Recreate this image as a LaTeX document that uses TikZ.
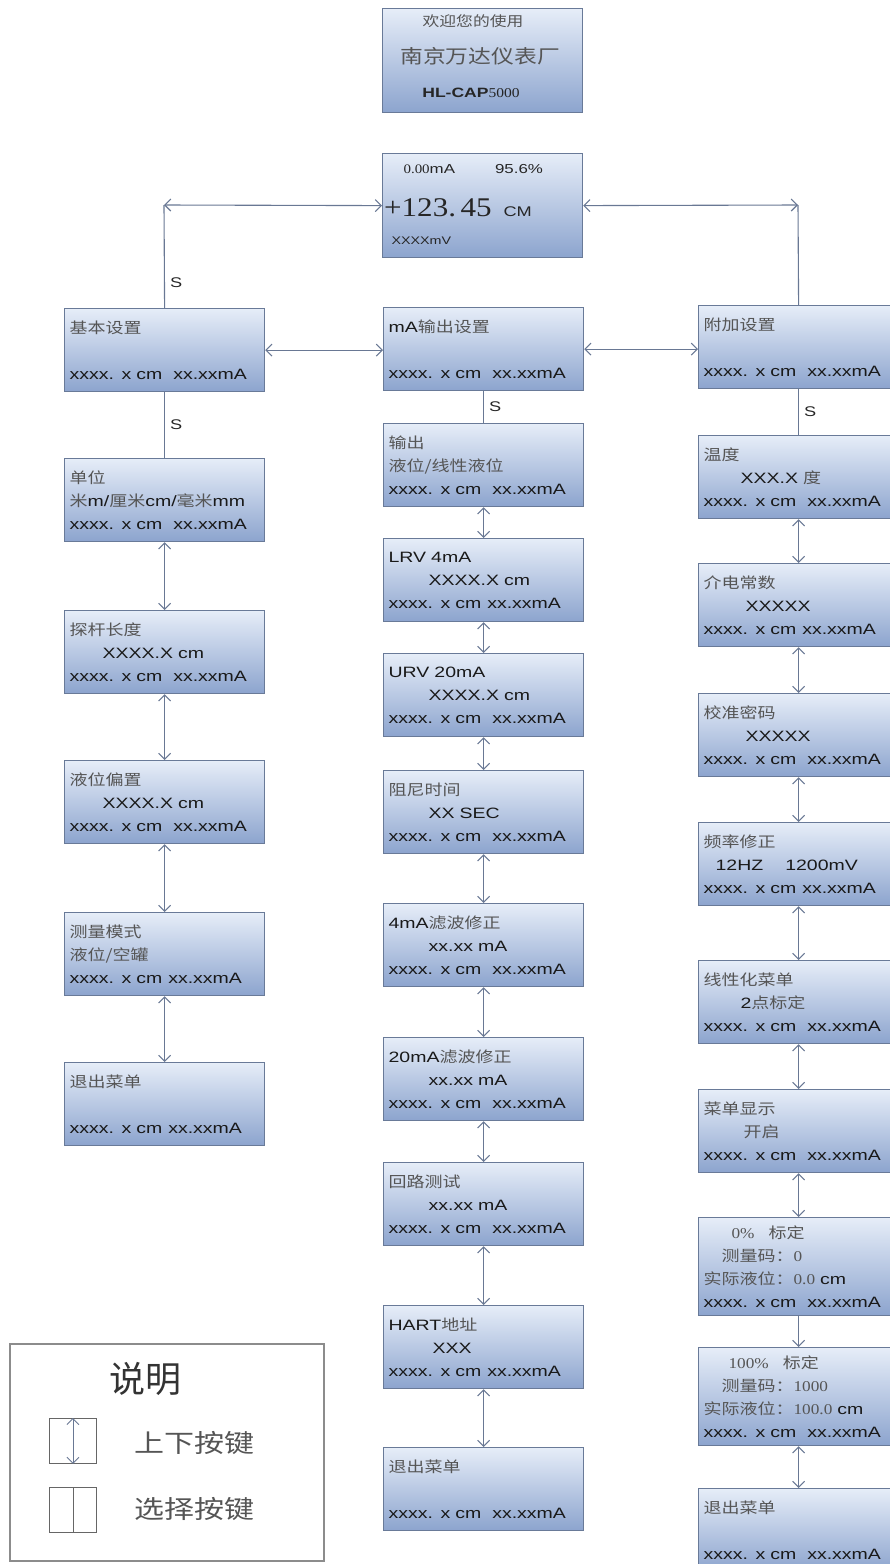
\documentclass[tikz,border=0pt]{standalone}
\usepackage{fontspec}
\setmainfont[FakeStretch=1.3]{Liberation Sans}
\newfontfamily\zhfont[FakeStretch=1.2]{Noto Sans CJK SC}
\newfontfamily\zhbig{Noto Sans CJK SC}
\newfontfamily\digitfont[FakeStretch=1.15]{Liberation Serif}
\usetikzlibrary{arrows.meta}
\definecolor{boxtop}{RGB}{230,237,248}
\definecolor{boxbot}{RGB}{140,164,206}
\definecolor{boxline}{RGB}{105,122,152}
\definecolor{linkc}{RGB}{105,120,148}
\definecolor{zhgray}{RGB}{85,85,85}
\newcommand{\zh}[1]{{\zhfont\color{zhgray}#1}}
\newcommand{\reading}[1][11pt]{xxxx. x cm\hspace{#1}xx.xxmA}

\begin{document}
\begin{tikzpicture}[x=1pt,y=-1pt,
  menu/.style={draw=boxline,line width=1.2pt,top color=boxtop,bottom color=boxbot,
    anchor=north west,minimum width=200pt,minimum height=83pt,text width=190pt,
    inner xsep=5pt,inner ysep=0pt,align=left,font=\fontsize{15}{23}\selectfont,text=black!90},
  link/.style={draw=linkc,line width=1.1pt},
  lbl/.style={font=\fontsize{14}{14}\selectfont,text=black!85,inner sep=1pt},
  >={Straight Barb[length=6pt,width=12pt]}]
\useasboundingbox (0,0) rectangle (890,1564);

\node[menu,minimum height=104pt] (welcome) at (382,8) {};
\node (wel1) at (473,21) {\fontsize{14}{14}\selectfont\zh{欢迎您的使用}};
\node (wel2) at (480,56) {\fontsize{19}{19}\selectfont\zh{南京万达仪表厂}};
\node (wel3) at (471,93) {\fontsize{13.5}{14}\selectfont\color{black!85}\textbf{HL-CAP}{\digitfont 5000}};

\node[menu,minimum height=104pt] (disp) at (382,153) {};
\node[anchor=west] (disptop) at (400,169) {\fontsize{13}{13}\selectfont\color{black!85}{\digitfont 0.00}mA\hspace{40pt}95.6\%};
\node[anchor=west,inner sep=0pt] (dispval) at (384,208) {\color{black!85}{\digitfont\fontsize{27}{27}\selectfont +123.\,45}\hspace{12pt}{\fontsize{14}{14}\selectfont CM}};
\node[anchor=west] (dispmv) at (388,241) {\fontsize{11}{11}\selectfont\color{black!85}XXXXmV};
\coordinate (lcorner) at (164,205);
\coordinate (rcorner) at (798,205);

\node[menu] (jbsz) at (64,308) {\zh{基本设置}\\ \mbox{}\\ \reading};
\node[menu] (danwei) at (64,458) {\zh{单位}\\ \zh{米}m/\zh{厘米}cm/\zh{毫米}mm\\ \reading};
\node[menu] (tgcd) at (64,610) {\zh{探杆长度}\\ \hspace*{33pt}XXXX.X cm\\ \reading};
\node[menu] (ywpz) at (64,760) {\zh{液位偏置}\\ \hspace*{33pt}XXXX.X cm\\ \reading};
\node[menu] (clms) at (64,912) {\zh{测量模式}\\ \zh{液位/空罐}\\ \reading[6pt]};
\node[menu] (lexit) at (64,1062) {\zh{退出菜单}\\ \mbox{}\\ \reading[6pt]};

\node[menu] (mAsz) at (383,307) {mA\zh{输出设置}\\ \mbox{}\\ \reading};
\node[menu] (shuchu) at (383,423) {\zh{输出}\\ \zh{液位/线性液位}\\ \reading};
\node[menu] (lrv) at (383,538) {LRV 4mA\\ \hspace*{40pt}XXXX.X cm\\ \reading[6pt]};
\node[menu] (urv) at (383,653) {URV 20mA\\ \hspace*{40pt}XXXX.X cm\\ \reading};
\node[menu] (zuni) at (383,770) {\zh{阻尼时间}\\ \hspace*{40pt}XX SEC\\ \reading};
\node[menu] (lb4) at (383,903) {4mA\zh{滤波修正}\\ \hspace*{40pt}xx.xx mA\\ \reading};
\node[menu] (lb20) at (383,1037) {20mA\zh{滤波修正}\\ \hspace*{40pt}xx.xx mA\\ \reading};
\node[menu] (huilu) at (383,1162) {\zh{回路测试}\\ \hspace*{40pt}xx.xx mA\\ \reading};
\node[menu] (hart) at (383,1305) {HART\zh{地址}\\ \hspace*{44pt}XXX\\ \reading[6pt]};
\node[menu] (mexit) at (383,1447) {\zh{退出菜单}\\ \mbox{}\\ \reading};

\node[menu] (fjsz) at (698,305) {\zh{附加设置}\\ \mbox{}\\ \reading};
\node[menu] (wendu) at (698,435) {\zh{温度}\\ \hspace*{37pt}XXX.X \zh{度}\\ \reading};
\node[menu] (jdcs) at (698,563) {\zh{介电常数}\\ \hspace*{42pt}XXXXX\\ \reading[6pt]};
\node[menu] (jzmm) at (698,693) {\zh{校准密码}\\ \hspace*{42pt}XXXXX\\ \reading};
\node[menu] (plxz) at (698,822) {\zh{频率修正}\\ \hspace*{12pt}12HZ\hspace{22pt}1200mV\\ \reading[6pt]};
\node[menu] (xxh) at (698,960) {\zh{线性化菜单}\\ \hspace*{37pt}2\zh{点标定}\\ \reading};
\node[menu] (cdxs) at (698,1089) {\zh{菜单显示}\\ \hspace*{40pt}\zh{开启}\\ \reading};
\node[menu,minimum height=98pt] (bd0) at (698,1217) {\hspace*{28pt}{\digitfont\color{zhgray}0\%}\hspace{14pt}\zh{标定}\\ \hspace*{18pt}\zh{测量码：}{\digitfont\color{zhgray}0}\\ \zh{实际液位：}{\digitfont\color{zhgray}0.0} cm\\ \reading};
\node[menu,minimum height=98pt] (bd100) at (698,1347) {\hspace*{25pt}{\digitfont\color{zhgray}100\%}\hspace{14pt}\zh{标定}\\ \hspace*{18pt}\zh{测量码：}{\digitfont\color{zhgray}1000}\\ \zh{实际液位：}{\digitfont\color{zhgray}100.0} cm\\ \reading};
\node[menu] (rexit) at (698,1488) {\zh{退出菜单}\\ \mbox{}\\ \reading};

\draw[link] (jbsz.north) -- node[lbl,right,pos=0.25,xshift=4pt] (s1) {S} (lcorner);
\draw[link,<->] (lcorner) -- (disp.west);
\draw[link,<->] (disp.east) -- (rcorner);
\draw[link] (rcorner) -- (fjsz.north);
\draw[link,<->] (jbsz.east) -- (jbsz.east -| mAsz.west);
\draw[link,<->] (mAsz.east) -- (mAsz.east -| fjsz.west);

\draw[link] (jbsz.south) -- node[lbl,right,xshift=4pt] (s2) {S} (danwei.north);
\draw[link] (mAsz.south) -- node[lbl,right,xshift=4pt] (s3) {S} (shuchu.north);
\draw[link] (fjsz.south) -- node[lbl,right,xshift=4pt] (s4) {S} (wendu.north);

\draw[link,<->] (danwei.south) -- (tgcd.north);
\draw[link,<->] (tgcd.south) -- (ywpz.north);
\draw[link,<->] (ywpz.south) -- (clms.north);
\draw[link,<->] (clms.south) -- (lexit.north);

\draw[link,<->] (shuchu.south) -- (lrv.north);
\draw[link,<->] (lrv.south) -- (urv.north);
\draw[link,<->] (urv.south) -- (zuni.north);
\draw[link,<->] (zuni.south) -- (lb4.north);
\draw[link,<->] (lb4.south) -- (lb20.north);
\draw[link,<->] (lb20.south) -- (huilu.north);
\draw[link,<->] (huilu.south) -- (hart.north);
\draw[link,<->] (hart.south) -- (mexit.north);

\draw[link,<->] (wendu.south) -- (jdcs.north);
\draw[link,<->] (jdcs.south) -- (jzmm.north);
\draw[link,<->] (jzmm.south) -- (plxz.north);
\draw[link,<->] (plxz.south) -- (xxh.north);
\draw[link,<->] (xxh.south) -- (cdxs.north);
\draw[link,<->] (cdxs.south) -- (bd0.north);
\draw[link,->] (bd0.south) -- (bd100.north);
\draw[link,<->] (bd100.south) -- (rexit.north);

\node[draw=black!45,line width=1.5pt,fill=white,anchor=north west,minimum width=314pt,minimum height=217pt] (legend) at (9,1343) {};
\node (legtitle) at (145,1379) {\fontsize{36}{36}\selectfont\zhbig\color{black!80}说明};
\node[draw=black!60,line width=0.9pt,anchor=north west,minimum width=47pt,minimum height=45pt] (keyud) at (49,1418) {};
\draw[link,line width=0.9pt,<->] (keyud.north) -- (keyud.south);
\node (keyudtxt) at (194,1443) {\fontsize{25}{25}\selectfont\zh{上下按键}};
\node[draw=black!60,line width=0.9pt,anchor=north west,minimum width=47pt,minimum height=45pt] (keysel) at (49,1487) {};
\draw[draw=black!60,line width=0.9pt] (keysel.north) -- (keysel.south);
\node (keyseltxt) at (194,1509) {\fontsize{25}{25}\selectfont\zh{选择按键}};
\end{tikzpicture}
\end{document}
